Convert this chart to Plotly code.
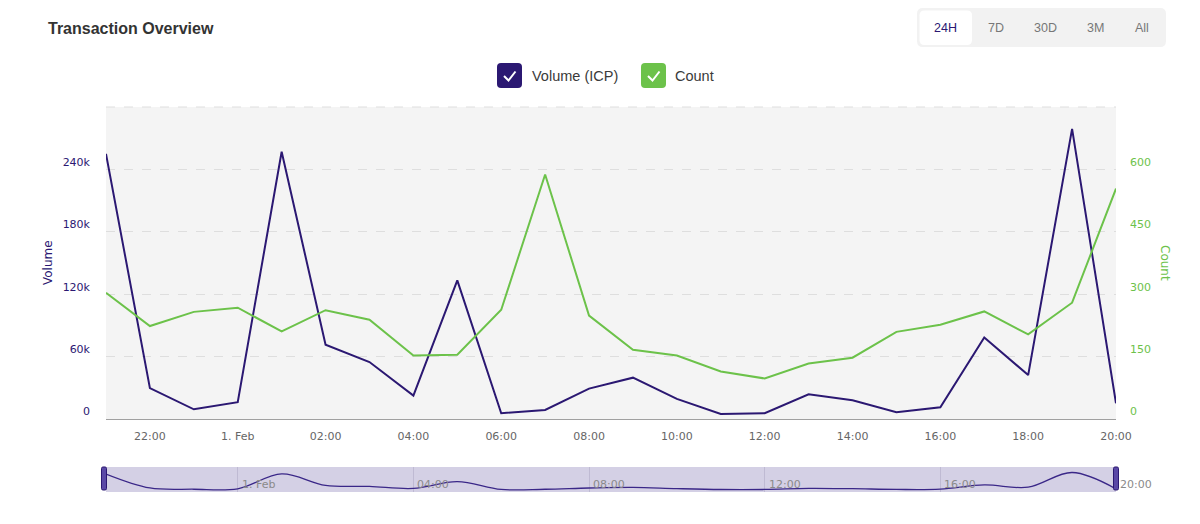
import pandas as pd
import plotly.graph_objects as go

# ---------------- data ----------------
times = pd.date_range("2025-01-31 21:00", periods=24, freq="h")
volume_icp = [255000, 30000, 9600, 16400, 257000, 71700, 55000, 22800, 133500, 5800,
              9000, 29500, 40000, 19600, 5100, 5800, 24000, 18300, 6800, 11600,
              78500, 42500, 279000, 15400]
tx_count = [304, 224, 258, 268, 211, 262, 239, 153, 155, 263,
            588, 249, 167, 153, 115, 98, 134, 148, 210, 227,
            259, 204, 280, 554]

x_tick_times = pd.date_range("2025-01-31 22:00", "2025-02-01 20:00", freq="2h")
x_tick_labels = ["22:00", "1. Feb", "02:00", "04:00", "06:00", "08:00",
                 "10:00", "12:00", "14:00", "16:00", "18:00", "20:00"]
nav_tick_times = pd.date_range("2025-02-01 00:00", "2025-02-01 20:00", freq="4h")
nav_tick_labels = ["1. Feb", "04:00", "08:00", "12:00", "16:00", "20:00"]
vol_ticks = [0, 60000, 120000, 180000, 240000, 300000]
vol_tick_labels = ["0", "60k", "120k", "180k", "240k", ""]
cnt_ticks = [0, 150, 300, 450, 600, 750]
cnt_tick_labels = ["0", "150", "300", "450", "600", ""]
range_buttons = ["24H", "7D", "30D", "3M", "All"]
legend_names = ["Volume (ICP)", "Count"]

# ---------------- styling / geometry ----------------
PURPLE = "#2b1872"
GREEN = "#6cc24a"
W_PX, H_PX = 1200, 524
L, R, T, B = 106, 1116, 107, 492
PW, PH = R - L, B - T


def px(x):
    return (x - L) / PW


def py(y):
    return (B - y) / PH


def rrect(x0, y0, x1, y1, r):
    pts = [
        ("M", [(x0 + r, y0)]), ("L", [(x1 - r, y0)]), ("Q", [(x1, y0), (x1, y0 + r)]),
        ("L", [(x1, y1 - r)]), ("Q", [(x1, y1), (x1 - r, y1)]), ("L", [(x0 + r, y1)]),
        ("Q", [(x0, y1), (x0, y1 - r)]), ("L", [(x0, y0 + r)]), ("Q", [(x0, y0), (x0 + r, y0)]),
    ]
    s = ""
    for cmd, ps in pts:
        s += cmd + " " + " ".join(f"{px(a):.5f},{py(b):.5f}" for a, b in ps) + " "
    return s + "Z"


def pline(points):
    return "M " + " L ".join(f"{px(a):.5f},{py(b):.5f}" for a, b in points)


main_bottom = 419.3
main_dom = [py(main_bottom), 1]
nav_dom = [0, py(467)]

fig = go.Figure()
fig.add_trace(go.Scatter(x=times, y=volume_icp, mode="lines", name=legend_names[0],
                         line=dict(color=PURPLE, width=2), xaxis="x", yaxis="y"))
fig.add_trace(go.Scatter(x=times, y=tx_count, mode="lines", name=legend_names[1],
                         line=dict(color=GREEN, width=2), xaxis="x", yaxis="y2"))
fig.add_trace(go.Scatter(x=times, y=volume_icp, mode="lines", showlegend=False,
                         line=dict(color="#3a2788", width=1.3, shape="spline", smoothing=1),
                         xaxis="x2", yaxis="y3"))

shapes = [
    dict(type="rect", xref="paper", yref="paper", x0=0, x1=1, y0=main_dom[0], y1=1,
         fillcolor="#f4f4f4", line=dict(width=0), layer="below"),
    dict(type="line", xref="paper", yref="paper", x0=0, x1=1, y0=1, y1=1,
         line=dict(color="#dedede", width=1, dash="dash"), layer="below"),
    dict(type="rect", xref="paper", yref="paper", x0=0, x1=1, y0=nav_dom[0], y1=nav_dom[1],
         fillcolor="#d4d0e5", line=dict(width=0), layer="below"),
    # navigator handles
    dict(type="path", xref="paper", yref="paper", path=rrect(101.5, 467, 106.5, 490, 1.5),
         fillcolor="#5a48a6", line=dict(color=PURPLE, width=1)),
    dict(type="path", xref="paper", yref="paper", path=rrect(1113.5, 467, 1118.5, 490, 1.5),
         fillcolor="#5a48a6", line=dict(color=PURPLE, width=1)),
    # range selector box
    dict(type="path", xref="paper", yref="paper", path=rrect(917, 8, 1166, 47, 6),
         fillcolor="#f2f2f2", line=dict(width=0)),
    dict(type="path", xref="paper", yref="paper", path=rrect(919.5, 10.5, 972, 45, 5),
         fillcolor="#ffffff", line=dict(width=0)),
    # legend boxes
    dict(type="path", xref="paper", yref="paper", path=rrect(497, 63, 522, 88, 4),
         fillcolor=PURPLE, line=dict(width=0)),
    dict(type="path", xref="paper", yref="paper", path=rrect(641, 63, 666, 88, 4),
         fillcolor=GREEN, line=dict(width=0)),
    dict(type="path", xref="paper", yref="paper",
         path=pline([(504, 76), (508.5, 80.5), (515.5, 71.5)]),
         line=dict(color="white", width=2)),
    dict(type="path", xref="paper", yref="paper",
         path=pline([(648, 76), (652.5, 80.5), (659.5, 71.5)]),
         line=dict(color="white", width=2)),
]

annotations = [
    dict(text="<b>Transaction Overview</b>", xref="paper", yref="paper", x=px(46), y=py(28),
         xanchor="left", yanchor="middle", showarrow=False,
         font=dict(family="Liberation Sans", size=16, color="#333333")),
    dict(text="Volume", xref="paper", yref="paper", x=px(48), y=py(263), textangle=-90,
         xanchor="center", yanchor="middle", showarrow=False,
         font=dict(family="DejaVu Sans", size=12, color=PURPLE)),
    dict(text="Count", xref="paper", yref="paper", x=px(1165), y=py(263), textangle=90,
         xanchor="center", yanchor="middle", showarrow=False,
         font=dict(family="DejaVu Sans", size=12, color=GREEN)),
    dict(text=legend_names[0], xref="paper", yref="paper", x=px(530), y=py(76),
         xanchor="left", yanchor="middle", showarrow=False,
         font=dict(family="Liberation Sans", size=14.5, color="#3a3a3a")),
    dict(text=legend_names[1], xref="paper", yref="paper", x=px(673), y=py(76),
         xanchor="left", yanchor="middle", showarrow=False,
         font=dict(family="Liberation Sans", size=14.5, color="#3a3a3a")),
]
btn_x = [945, 996, 1045, 1095, 1142]
for i, (lab, bx) in enumerate(zip(range_buttons, btn_x)):
    annotations.append(dict(text=lab, xref="paper", yref="paper", x=px(bx), y=py(28),
                            xanchor="center", yanchor="middle", showarrow=False,
                            font=dict(family="Liberation Sans", size=12.5,
                                      color=PURPLE if i == 0 else "#777777")))
for t, lab in zip(nav_tick_times, nav_tick_labels):
    annotations.append(dict(text=lab, xref="x2", yref="paper", x=t, y=py(484),
                            xanchor="left", yanchor="middle", xshift=2, showarrow=False,
                            font=dict(family="DejaVu Sans", size=11, color="#8a8a8a")))

fig.update_layout(
    width=W_PX, height=H_PX,
    margin=dict(l=L, r=W_PX - R, t=T, b=H_PX - B, pad=0),
    paper_bgcolor="white", plot_bgcolor="rgba(0,0,0,0)",
    showlegend=False,
    font=dict(family="DejaVu Sans", size=11, color="#666666"),
    xaxis=dict(domain=[0, 1], anchor="y", range=[times[0], times[-1]],
               tickvals=list(x_tick_times), ticktext=x_tick_labels,
               showgrid=False, showline=True, linecolor="#a0a0a0", linewidth=1,
               ticks="", zeroline=False, tickfont=dict(size=11, color="#666666"),
               ticklabelstandoff=6),
    xaxis2=dict(domain=[0, 1], anchor="y3", range=[times[0], times[-1]],
                tickvals=list(nav_tick_times), showticklabels=False,
                showgrid=True, gridcolor="#bfbad3", gridwidth=1,
                showline=False, zeroline=False, ticks=""),
    yaxis=dict(domain=main_dom, anchor="x", range=[0, 300000],
               tickvals=vol_ticks, ticktext=vol_tick_labels,
               showgrid=True, gridcolor="#dedede", griddash="dash", gridwidth=1,
               zeroline=False, showline=False, ticks="",
               ticklabelposition="outside top", ticklabelstandoff=15,
               tickfont=dict(size=11, color=PURPLE)),
    yaxis2=dict(overlaying="y", side="right", anchor="x", range=[0, 750],
                tickvals=cnt_ticks, ticktext=cnt_tick_labels,
                showgrid=False, zeroline=False, showline=False, ticks="",
                ticklabelposition="outside top", ticklabelstandoff=13,
                tickfont=dict(size=11, color=GREEN)),
    yaxis3=dict(domain=nav_dom, anchor="x2", range=[-35000, 368000],
                visible=False, fixedrange=True),
    shapes=shapes,
    annotations=annotations,
)

fig.write_html("out.html")
